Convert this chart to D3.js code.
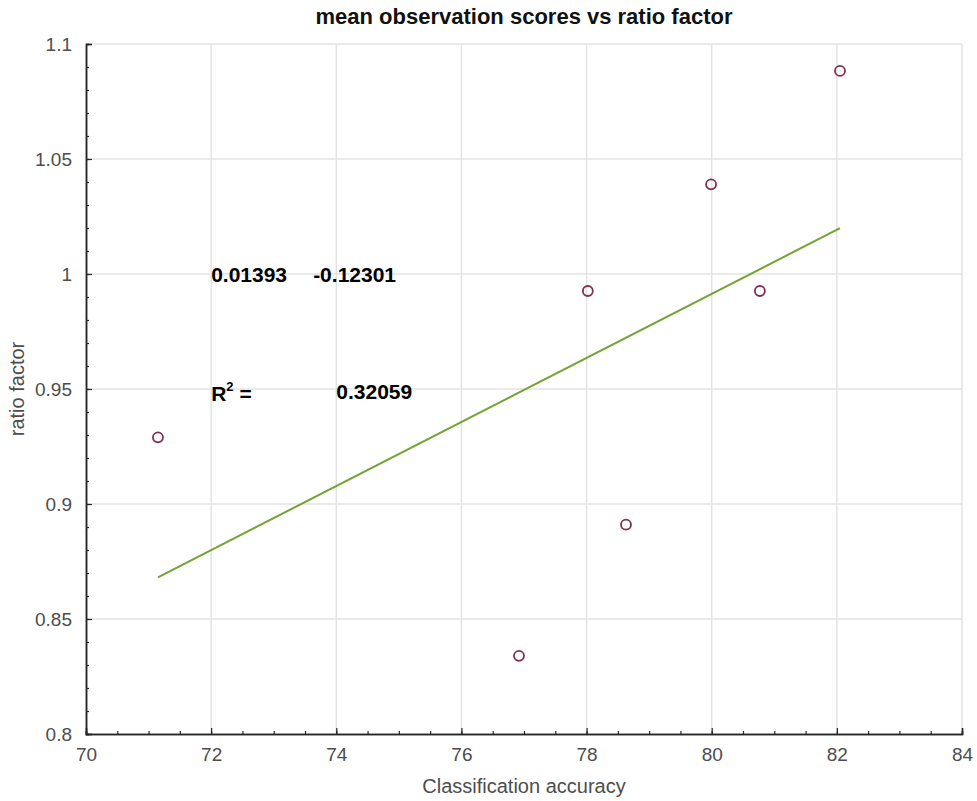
<!DOCTYPE html>
<html>
<head>
<meta charset="utf-8">
<script src="https://cdn.jsdelivr.net/npm/d3@7"></script>
<style>
  body { margin: 0; background: #fff; }
  text { font-family: "Liberation Sans", Arial, sans-serif; }
</style>
</head>
<body>
<svg id="chart"></svg>
<script>
// ===== DATA =====
const accuracy = [71.15, 76.92, 78.02, 78.63, 79.99, 80.77, 82.05];
const ratio = [0.929, 0.834, 0.9926, 0.891, 1.039, 0.9926, 1.0883];
const xTicks = [70, 72, 74, 76, 78, 80, 82, 84];
const yTicks = [0.8, 0.85, 0.9, 0.95, 1, 1.05, 1.1];
const fitCoef = [0.01393, -0.12301];
const rSquared = "0.32059";

const width = 977, height = 801;
const margin = { top: 44, right: 15, bottom: 67, left: 86 };

const svg = d3.select("#chart")
  .attr("width", width)
  .attr("height", height);

const xScale = d3.scaleLinear()
  .domain([70, 84])
  .range([margin.left, width - margin.right]);

const yScale = d3.scaleLinear()
  .domain([0.8, 1.1])
  .range([height - margin.bottom, margin.top]);

// ===== GRID =====
const grid = svg.append("g");
grid.selectAll(".gx")
  .data(xTicks.slice(1))
  .enter()
  .append("line")
  .attr("x1", d => xScale(d))
  .attr("x2", d => xScale(d))
  .attr("y1", yScale(0.8))
  .attr("y2", yScale(1.1))
  .attr("stroke", "#e3e3e3")
  .attr("stroke-width", 1.5);

grid.selectAll(".gy")
  .data(yTicks.slice(1))
  .enter()
  .append("line")
  .attr("x1", xScale(70))
  .attr("x2", xScale(84))
  .attr("y1", d => yScale(d))
  .attr("y2", d => yScale(d))
  .attr("stroke", "#e3e3e3")
  .attr("stroke-width", 1.5);

// ===== AXES =====
const xAxis = svg.append("g")
  .attr("transform", `translate(0,${yScale(0.8)})`)
  .call(d3.axisBottom(xScale).tickValues(xTicks).tickSize(-6).tickPadding(14).tickFormat(d3.format("d")));

const xMinor = svg.append("g")
  .attr("transform", `translate(0,${yScale(0.8)})`)
  .call(d3.axisBottom(xScale).tickValues(d3.range(70, 84.01, 0.5)).tickSize(-3).tickFormat(""));

const yAxis = svg.append("g")
  .attr("transform", `translate(${xScale(70)},0)`)
  .call(d3.axisLeft(yScale).tickValues(yTicks).tickSize(-6).tickPadding(14).tickFormat(d => d3.format("")(+d.toFixed(2))));

const yMinor = svg.append("g")
  .attr("transform", `translate(${xScale(70)},0)`)
  .call(d3.axisLeft(yScale).tickValues(d3.range(0.8, 1.1001, 0.01)).tickSize(-3).tickFormat(""));

[xAxis, yAxis, xMinor, yMinor].forEach(a => {
  a.select(".domain").attr("stroke", "#262626").attr("stroke-width", 1.5);
  a.selectAll(".tick line").attr("stroke", "#262626").attr("stroke-width", 1.2);
  a.selectAll(".tick text")
    .attr("font-size", 19)
    .attr("fill", "#4d4d4d")
    .style("font-family", "Liberation Sans, Arial, sans-serif");
});

// ===== LABELS =====
svg.append("text")
  .attr("x", (xScale(70) + xScale(84)) / 2)
  .attr("y", 24)
  .attr("text-anchor", "middle")
  .attr("font-size", 22)
  .attr("font-weight", 700)
  .attr("fill", "#111")
  .text("mean observation scores vs ratio factor");

svg.append("text")
  .attr("x", (xScale(70) + xScale(84)) / 2)
  .attr("y", 793)
  .attr("text-anchor", "middle")
  .attr("font-size", 20)
  .attr("fill", "#4d4d4d")
  .text("Classification accuracy");

svg.append("text")
  .attr("transform", "rotate(-90)")
  .attr("x", -(yScale(0.8) + yScale(1.1)) / 2)
  .attr("y", 24)
  .attr("text-anchor", "middle")
  .attr("font-size", 20)
  .attr("fill", "#4d4d4d")
  .text("ratio factor");

// ===== FIT LINE =====
const xExt = d3.extent(accuracy);
const fitLine = d3.line()
  .x(d => xScale(d))
  .y(d => yScale(fitCoef[0] * d + fitCoef[1]));

svg.append("path")
  .datum(xExt)
  .attr("fill", "none")
  .attr("stroke", "#72a334")
  .attr("stroke-width", 2)
  .attr("d", fitLine);

// ===== POINTS =====
svg.append("g")
  .selectAll("circle")
  .data(accuracy)
  .enter()
  .append("circle")
  .attr("cx", d => xScale(d))
  .attr("cy", (d, i) => yScale(ratio[i]))
  .attr("r", 5)
  .attr("fill", "none")
  .attr("stroke", "#7e2f52")
  .attr("stroke-width", 1.8);

// ===== ANNOTATIONS =====
const ann = svg.append("g")
  .attr("font-size", 21)
  .attr("font-weight", 700)
  .attr("fill", "#000");

ann.append("text")
  .attr("x", xScale(72))
  .attr("y", yScale(1.0) + 8)
  .text(fitCoef[0]);

ann.append("text")
  .attr("x", xScale(73.63))
  .attr("y", yScale(1.0) + 8)
  .text(fitCoef[1]);

const r2 = ann.append("text")
  .attr("x", xScale(72))
  .attr("y", yScale(0.95) + 12);
r2.append("tspan").text("R");
r2.append("tspan").attr("font-size", 13).attr("dy", -10).text("2");
r2.append("tspan").attr("dy", 10).text(" =");

ann.append("text")
  .attr("x", xScale(74))
  .attr("y", yScale(0.95) + 10)
  .text(rSquared);
</script>
</body>
</html>
